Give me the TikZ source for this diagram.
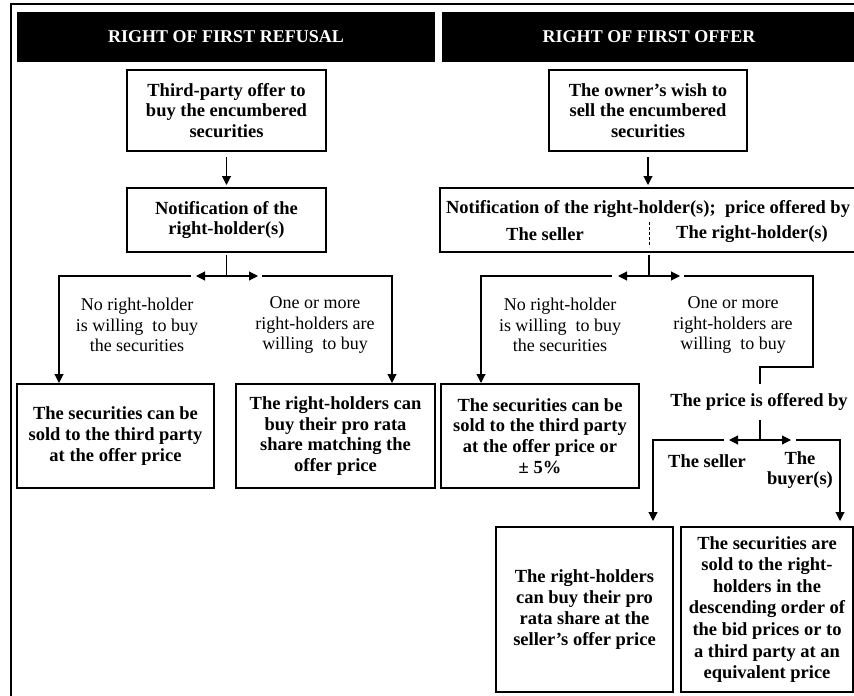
\documentclass[tikz,border=0pt]{standalone}
\usepackage{fontspec}
\setmainfont{Liberation Serif}
\usetikzlibrary{arrows.meta}
\begin{document}
\begin{tikzpicture}[x=1pt,y=-1pt,
  every node/.style={inner sep=0pt, outer sep=0pt},
  txt/.style={font=\fontsize{18}{20.6}\selectfont, align=center},
  boldtxt/.style={font=\fontsize{18.5}{20.8}\selectfont\bfseries, align=center},
  header/.style={fill=black, text=white, font=\fontsize{18}{20}\selectfont\bfseries, minimum height=50pt},
  stepbox/.style={draw, line width=2.6pt, boldtxt},
  link/.style={line width=1.1pt},
  arr/.style={link, -{Triangle[length=9pt,width=9pt]}},
]
\useasboundingbox (0,0) rectangle (854,696);

% page frame
\draw[line width=1.5pt] (11,700) -- (11,4) -- (860,4);

% column headers
\node[header, minimum width=418pt] (hL) at (226,37) {RIGHT OF FIRST REFUSAL};
\node[header, minimum width=414pt] (hR) at (649,37) {RIGHT OF FIRST OFFER};

% ---------------- right of first refusal ----------------
\node[stepbox, minimum width=199pt, minimum height=81pt] (a1) at (226.5,110.5)
  {Third-party offer to\\buy the encumbered\\securities};
\node[stepbox, minimum width=199pt, minimum height=64pt] (a2) at (226.5,220)
  {Notification of the\\right-holder(s)};
\node[stepbox, minimum width=197pt, minimum height=104pt] (a3) at (115.5,436)
  {The securities can be\\sold to the third party\\at the offer price};
\node[stepbox, minimum width=199pt, minimum height=104pt] (a4) at (335.5,436)
  {The right-holders can\\buy their pro rata\\share matching the\\offer price};

\node[txt] (la1) at (137,325) {No right-holder\\is willing\ \ to buy\\the securities};
\node[txt] (la2) at (315,325) {One or more\\right-holders are\\willing\ \ to buy};

\draw[arr, shorten <=6pt, shorten >=3pt] (a1.south) -- (a2.north);

\coordinate (jA)  at (226.5,276);
\coordinate (jAl) at (196,276);
\coordinate (jAr) at (258,276);
\coordinate (sAl) at (191,276);
\coordinate (sAr) at (262,276);
\coordinate (tA3) at (59,383);
\coordinate (tA4) at (392,383);
\draw[link, shorten <=3pt] (a2.south) -- (jA);
\draw[arr] (jA) -- (jAl);
\draw[arr] (jA) -- (jAr);
\draw[arr] (sAl) -| (tA3);
\draw[arr] (sAr) -| (tA4);

% ---------------- right of first offer ----------------
\node[stepbox, minimum width=198pt, minimum height=81pt] (b1) at (648,110.5)
  {The owner’s wish to\\sell the encumbered\\securities};
\node[stepbox, minimum width=417pt, minimum height=64pt] (b2) at (648.5,220) {};
\node[boldtxt] (b2t) at (648,209) {Notification of the right-holder(s);\ \ price offered by};
\node[boldtxt] (b2s) at (545,234) {The seller};
\node[boldtxt] (b2h) at (752,234) {The right-holder(s)};
\draw[dashed, line width=1pt, dash pattern=on 3pt off 2pt] (649,222) -- (649,247);

\node[stepbox, minimum width=198pt, minimum height=104pt] (b3) at (540,436)
  {The securities can be\\sold to the third party\\at the offer price or\\± 5\%};
\node[stepbox, minimum width=177pt, minimum height=165pt] (b4) at (584.5,609.5)
  {The right-holders\\can buy their pro\\rata share at the\\seller’s offer price};
\node[stepbox, minimum width=172pt, minimum height=165pt,
      font=\fontsize{18.5}{21.6}\selectfont\bfseries] (b5) at (767,609.5)
  {The securities are\\sold to the right-\\holders in the\\descending order of\\the bid prices or to\\a third party at an\\equivalent price};

\node[txt] (lb1) at (560,325) {No right-holder\\is willing\ \ to buy\\the securities};
\node[txt] (lb2) at (733,325) {One or more\\right-holders are\\willing\ \ to buy};
\node[boldtxt] (pb) at (759,402) {The price is offered by};
\node[boldtxt] (ps) at (707,461) {The seller};
\node[boldtxt] (pu) at (800,470) {The\\buyer(s)};

\draw[arr, shorten <=6pt, shorten >=3pt] (b1.south) -- (b1.south |- b2.north);

\coordinate (jB)  at (649,276);
\coordinate (jBl) at (618,276);
\coordinate (jBr) at (680,276);
\coordinate (sBl) at (612,276);
\coordinate (sBr) at (684,276);
\coordinate (tB3) at (481,383);
\coordinate (kB)  at (813,367);
\coordinate (kP)  at (760,384);
\draw[link, shorten <=3pt] (649,252) -- (jB);
\draw[arr] (jB) -- (jBl);
\draw[arr] (jB) -- (jBr);
\draw[arr] (sBl) -| (tB3);
\draw[link] (sBr) -| (kB) -| (kP);

\coordinate (jP)  at (760,440);
\coordinate (qP)  at (760,420);
\coordinate (jPl) at (729,440);
\coordinate (jPr) at (791,440);
\coordinate (sPl) at (724,440);
\coordinate (sPr) at (796,440);
\coordinate (tB4) at (653,521);
\coordinate (tB5) at (840,521);
\draw[link] (qP) -- (jP);
\draw[arr] (jP) -- (jPl);
\draw[arr] (jP) -- (jPr);
\draw[arr] (sPl) -| (tB4);
\draw[arr] (sPr) -| (tB5);
\end{tikzpicture}
\end{document}
